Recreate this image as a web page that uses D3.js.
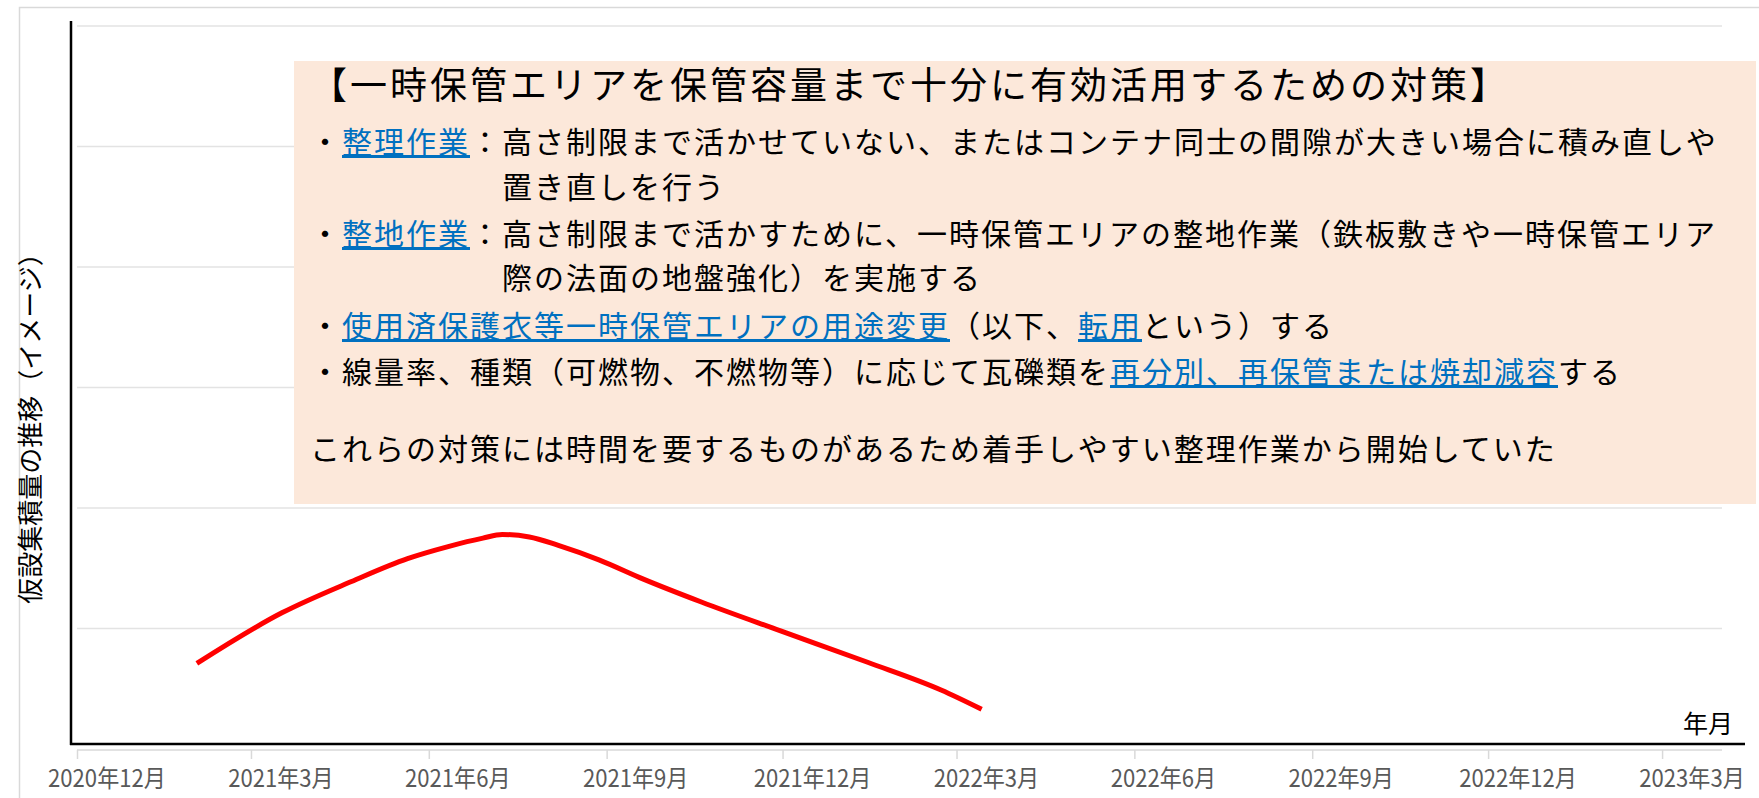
<!DOCTYPE html>
<html lang="ja">
<head>
<meta charset="utf-8">
<title>仮設集積量の推移（イメージ）</title>
<script src="https://cdn.jsdelivr.net/npm/d3@7"></script>
<style>
  body { margin: 0; background: #fff; }
  svg { display: block; font-family: "Noto Sans CJK JP", "Noto Sans", sans-serif; }
</style>
</head>
<body>
<div id="chart"></div>
<script>
// x axis: one label every 3 months (Excel date axis, labels sit between ticks)
const tickMonths = ['2020-12', '2021-03', '2021-06', '2021-09', '2021-12', '2022-03', '2022-06', '2022-09', '2022-12', '2023-03'];
const tickLabels = ['2020年12月', '2021年3月', '2021年6月', '2021年9月', '2021年12月', '2022年3月', '2022年6月', '2022年9月', '2022年12月', '2023年3月'];

// the red curve (no y labels in the picture, so values are on a 0-60 grid scale)
const pointDates = ['2021-02-01', '2021-03-17', '2021-04-22', '2021-05-21', '2021-06-11', '2021-06-29', '2021-07-09', '2021-07-23',
  '2021-08-07', '2021-08-28', '2021-09-20', '2021-10-20', '2021-11-30', '2022-01-14', '2022-02-21', '2022-03-14'];
const pointValues = [7.1, 11.3, 13.9, 15.8, 16.8, 17.5, 17.8, 17.6, 16.9, 15.7, 14.1, 12.2, 9.8, 7.2, 4.9, 3.3];
const gridValues = [10, 20, 30, 40, 50, 60];

const yTitle = '仮設集積量の推移（イメージ）';
const xTitle = '年月';

// text box: [text, isLink]
const noteTitle = '【一時保管エリアを保管容量まで十分に有効活用するための対策】';
const noteLines = [
  { indent: false, parts: [['・', 0], ['整理作業', 1], ['：高さ制限まで活かせていない、またはコンテナ同士の間隙が大きい場合に積み直しや', 0]] },
  { indent: true, parts: [['置き直しを行う', 0]] },
  { indent: false, parts: [['・', 0], ['整地作業', 1], ['：高さ制限まで活かすために、一時保管エリアの整地作業（鉄板敷きや一時保管エリア', 0]] },
  { indent: true, parts: [['際の法面の地盤強化）を実施する', 0]] },
  { indent: false, parts: [['・', 0], ['使用済保護衣等一時保管エリアの用途変更', 1], ['（以下、', 0], ['転用', 1], ['という）する', 0]] },
  { indent: false, parts: [['・線量率、種類（可燃物、不燃物等）に応じて瓦礫類を', 0], ['再分別、再保管または焼却減容', 1], ['する', 0]] },
  { indent: false, parts: [['これらの対策には時間を要するものがあるため着手しやすい整理作業から開始していた', 0]] }
];

const width = 1759, height = 798;
const parse = d3.timeParse('%Y-%m-%d');
const parseMonth = d3.timeParse('%Y-%m');

const svg = d3.select('#chart')
  .append('svg')
  .attr('width', width)
  .attr('height', height);

// chart area border
svg.append('rect')
  .attr('x', 19.5).attr('y', 7.5)
  .attr('width', width).attr('height', height)
  .attr('fill', 'none')
  .attr('stroke', '#d9d9d9')
  .attr('stroke-width', 1.5);

const x = d3.scaleTime()
  .domain([parseMonth('2020-12'), parseMonth('2023-04')])
  .range([77, 1722]);

const y = d3.scaleLinear()
  .domain([0, 60])
  .range([749, 26]);

// horizontal gridlines
svg.append('g')
  .selectAll('line')
  .data(gridValues)
  .enter()
  .append('line')
  .attr('x1', x.range()[0]).attr('x2', x.range()[1])
  .attr('y1', d => y(d)).attr('y2', d => y(d))
  .attr('stroke', '#e3e3e3')
  .attr('stroke-width', 1.5);

// category axis (light grey) with outside ticks
const ticks = tickMonths.map(parseMonth);
const xAxis = svg.append('g')
  .attr('transform', 'translate(0,' + (y(0) + 1) + ')')
  .call(d3.axisBottom(x).tickValues(ticks).tickSize(9).tickFormat(''));
xAxis.select('.domain').attr('stroke', '#d9d9d9').attr('stroke-width', 1.5).attr('d', 'M' + x.range()[0] + ',0H' + x.range()[1]);
xAxis.selectAll('.tick line').attr('stroke', '#d9d9d9').attr('stroke-width', 1.5);

// labels centred inside their month, squeezed a bit like the narrow UI font
svg.append('g')
  .selectAll('text')
  .data(ticks)
  .enter()
  .append('text')
  .attr('x', d => (x(d) + x(d3.timeMonth.offset(d, 1))) / 2)
  .attr('y', 787)
  .attr('text-anchor', 'middle')
  .attr('fill', '#595959')
  .style('font-size', '24px')
  .text((d, i) => tickLabels[i])
  .each(function () {
    const w = this.getComputedTextLength();
    d3.select(this).attr('textLength', w * 0.92).attr('lengthAdjust', 'spacingAndGlyphs');
  });

// hand drawn black axes
svg.append('line')
  .attr('x1', 71).attr('x2', 71)
  .attr('y1', 21).attr('y2', y(0) - 4)
  .attr('stroke', '#000').attr('stroke-width', 2.5);
svg.append('line')
  .attr('x1', 70).attr('x2', 1745)
  .attr('y1', y(0) - 5).attr('y2', y(0) - 5)
  .attr('stroke', '#000').attr('stroke-width', 2.5);

// axis titles
svg.append('text')
  .attr('transform', 'translate(40,422) rotate(-90)')
  .attr('text-anchor', 'middle')
  .style('font-size', '26px')
  .text(yTitle);

svg.append('text')
  .attr('x', 1733).attr('y', 733)
  .attr('text-anchor', 'end')
  .style('font-size', '25px')
  .text(xTitle);

// red line
const line = d3.line()
  .x((d, i) => x(parse(pointDates[i])))
  .y(d => y(d))
  .curve(d3.curveMonotoneX);

svg.append('path')
  .datum(pointValues)
  .attr('d', line)
  .attr('fill', 'none')
  .attr('stroke', '#ff0000')
  .attr('stroke-width', 5);

// note box
const box = svg.append('g');
box.append('rect')
  .attr('x', 294).attr('y', 61)
  .attr('width', 1462).attr('height', 443)
  .attr('fill', '#fce8da');

// y values are the line centres, shifted down to the baseline
box.append('text')
  .attr('x', 310).attr('y', 86 + 13)
  .style('font-size', '37px')
  .style('letter-spacing', '3px')
  .text(noteTitle);

const lineY = [142, 187, 234, 278, 326, 372, 449];

const rows = box.selectAll('.note-line')
  .data(noteLines)
  .enter()
  .append('text')
  .attr('class', 'note-line')
  .attr('x', d => d.indent ? 502 : 310)
  .attr('y', (d, i) => lineY[i] + 11)
  .style('font-size', '30px')
  .style('letter-spacing', '2px');

rows.selectAll('tspan')
  .data(d => d.parts)
  .enter()
  .append('tspan')
  .attr('fill', d => d[1] ? '#0070c0' : '#000')
  .style('text-decoration', d => d[1] ? 'underline' : 'none')
  .text(d => d[0]);
</script>
</body>
</html>
